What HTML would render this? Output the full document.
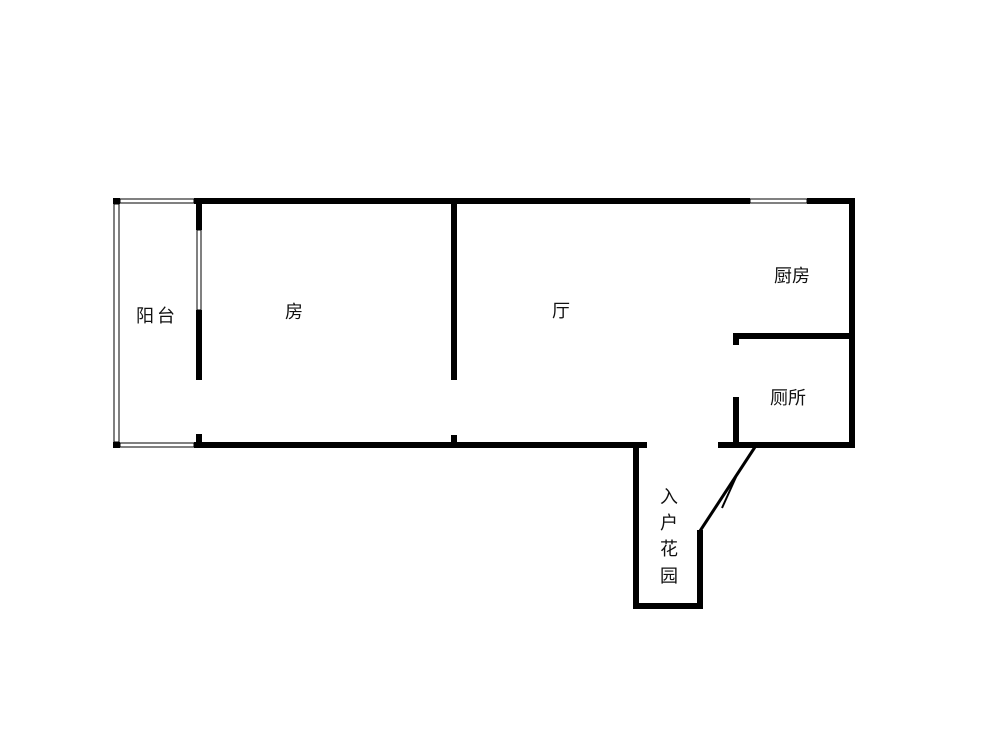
<!DOCTYPE html>
<html><head><meta charset="utf-8"><style>
body{margin:0;background:#fff;width:1000px;height:750px;overflow:hidden}
text{font-family:"Liberation Sans","Noto Sans CJK SC",sans-serif;font-size:18px;fill:#111}
</style></head><body>
<svg width="1000" height="750" xmlns="http://www.w3.org/2000/svg">
<g fill="#000">
<!-- top wall -->
<rect x="194" y="198" width="556" height="6"/>
<rect x="807" y="198" width="48" height="6"/>
<!-- corners -->
<rect x="113" y="198" width="7" height="6"/>
<rect x="113" y="442" width="7" height="6"/>
<!-- bottom wall -->
<rect x="194" y="442" width="453" height="6"/>
<!-- right wall -->
<rect x="849" y="198" width="6" height="250"/>
<!-- partition x199 -->
<rect x="196" y="204" width="6" height="26"/>
<rect x="196" y="310" width="6" height="70"/>
<rect x="196" y="434" width="6" height="10"/>
<!-- middle wall -->
<rect x="451" y="204" width="6" height="176"/>
<rect x="451" y="435" width="6" height="9"/>
<!-- kitchen/toilet wall -->
<rect x="733" y="333" width="120" height="6"/>
<rect x="733" y="333" width="6" height="12"/>
<rect x="733" y="397" width="6" height="48"/>
<rect x="718" y="442" width="137" height="6"/>
<!-- entrance -->
<rect x="633" y="445" width="6" height="164"/>
<rect x="633" y="603" width="70" height="6"/>
<rect x="697" y="530" width="6" height="79"/>
</g>
<g stroke="#000" fill="none">
<line x1="700" y1="531" x2="755" y2="447" stroke-width="3"/>
<line x1="736" y1="477" x2="722" y2="508" stroke-width="2"/>
<!-- windows -->
<rect x="120" y="199" width="74" height="4" stroke-width="1"/>
<rect x="120" y="443" width="74" height="4" stroke-width="1"/>
<rect x="114" y="204" width="5" height="238" stroke-width="1"/>
<rect x="197" y="230" width="4" height="80" stroke-width="1"/>
<rect x="750" y="199" width="57" height="4" stroke-width="1"/>
</g>
<text x="157" y="322" text-anchor="middle" letter-spacing="3">阳台</text>
<text x="294" y="318" text-anchor="middle">房</text>
<text x="561" y="317" text-anchor="middle">厅</text>
<text x="792" y="282" text-anchor="middle">厨房</text>
<text x="788" y="404" text-anchor="middle">厕所</text>
<text x="669" y="503" text-anchor="middle">入</text>
<text x="669" y="529" text-anchor="middle">户</text>
<text x="669" y="555" text-anchor="middle">花</text>
<text x="669" y="582" text-anchor="middle">园</text>
</svg>
</body></html>
